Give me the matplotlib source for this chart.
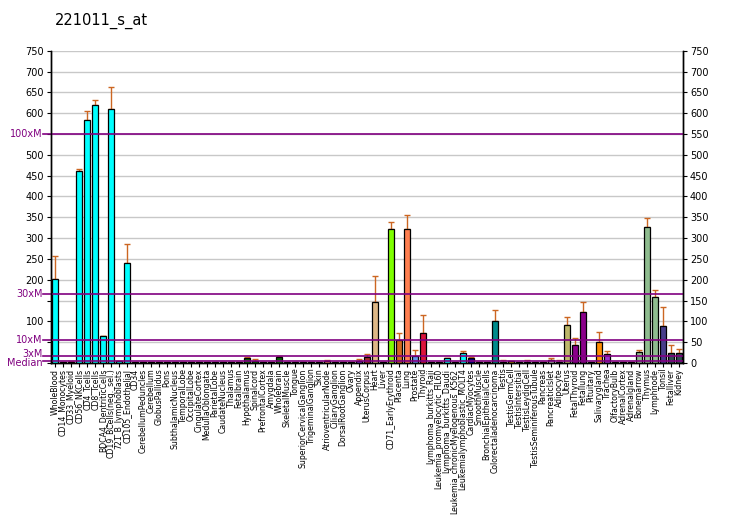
import numpy as np
import matplotlib
matplotlib.use("Agg")
import matplotlib.pyplot as plt
from matplotlib.transforms import blended_transform_factory

title = "221011_s_at"

categories = [
    "WholeBlood", "CD14_Monocytes", "CD33_Myeloid", "CD56_NKCells", "CD4_Tcells",
    "CD8_Tcells", "BDCA4_DentriticCells", "CD19_BCells(neg._sel.)", "721_B_lymphoblasts",
    "CD105_Endothelial", "CD34", "CerebellumPeduncles", "Cerebellum", "GlobusPallidus",
    "Pons", "SubthalamicNucleus", "TemporalLobe", "OccipitalLobe", "CingulateCortex",
    "MedullaOblongata", "ParietalLobe", "CaudateNucleus", "Thalamus", "Fetalbrain",
    "Hypothalamus", "Spinalcord", "PrefrontalCortex", "Amygdala", "Wholebrain",
    "SkeletalMuscle", "Tongue", "SuperiorCervicalGanglion", "TrigeminalGanglion", "Skin",
    "AtrioventricularNode", "CiliaryGanglion", "DorsalRootGanglion", "Ovary", "Appendix",
    "UterusCorpus", "Heart", "Liver", "CD71_EarlyErythroid", "Placenta", "Lung",
    "Prostate", "Thyroid", "Lymphoma_burkitts_Raji", "Leukemia_promyelocytic_HL60",
    "Lymphoma_burkitts_Daudi", "Leukemia_chronicMyelogenous_K562",
    "Leukemialymphoblastic_MOLT4", "CardiacMyocytes", "SmoothMuscle",
    "BronchialEpithelialCells", "Colorectaladenocarcinoma", "Testis", "TestisGermCell",
    "TestisIntersitial", "TestisLeydigCell", "TestisSeminiferousTubule", "Pancreas",
    "PancreaticIslet", "Adipocyte", "Uterus", "FetalThyroid", "Fetallung", "Pituitary",
    "Salivarygland", "Trachea", "OlfactoryBulb", "AdrenalCortex", "Adrenalgland",
    "Bonemarrow", "Thymus", "Lymphnode", "Tonsil", "Fetalliver", "Kidney",
]

values = [
    201, 2, 3, 460, 583, 619, 65, 609, 6, 239, 2,
    2, 2, 2, 2, 2, 2, 2, 2, 2, 2, 2, 2, 2, 13, 5, 2, 2, 15,
    2, 2, 2, 2, 2, 4, 2, 2, 2, 6,
    14, 147, 2, 323, 55, 321, 18, 71, 2, 2, 11, 2, 24, 11, 3,
    2, 100, 3, 4, 2, 3, 2, 2, 7, 3, 91, 43, 122, 2, 50, 21,
    2, 2, 2, 26, 326, 158, 88, 23, 23,
]

err_top = [
    258, 2, 5, 467, 604, 631, 66, 664, 6, 286, 2,
    2, 2, 2, 2, 2, 2, 2, 2, 2, 2, 2, 2, 2, 14, 9, 2, 2, 16,
    2, 2, 2, 2, 2, 7, 2, 2, 2, 10,
    21, 208, 2, 338, 71, 355, 31, 115, 2, 2, 11, 2, 29, 14, 3,
    2, 127, 7, 5, 2, 7, 2, 2, 11, 7, 110, 59, 146, 2, 75, 28,
    2, 2, 2, 31, 348, 175, 134, 43, 33,
]

colors = (
    ["#00FFFF"] * 11
    + ["#006400"] * 18
    + ["#F0FFFF", "#FFE4C4", "#FFEBCD", "#FFEBCD", "#F5F5DC", "#FA8072",
       "#FFEBCD", "#FFEBCD", "#0000FF", "#8A2BE2"]
    + ["#A52A2A", "#DEB887", "#5F9EA0", "#7FFF00", "#D2691E", "#FF7F50",
       "#6495ED", "#DC143C"]
    + ["#00FFFF"] * 5
    + ["#00008B"] * 2
    + ["#008B8B"] * 2
    + ["#B8860B"] * 5
    + ["#A9A9A9"] * 3
    + ["#BDB76B", "#8B008B", "#8B008B", "#556B2F", "#FF8C00", "#9932CC",
       "#8B0000", "#E9967A", "#E9967A", "#8FBC8F", "#8FBC8F", "#8FBC8F",
       "#483D8B", "#2F4F4F", "#2F4F4F"]
)

median = 5.49
mult_labels = ["Median", "3xM", "10xM", "30xM", "100xM"]
mult_factors = [1, 3, 10, 30, 100]
label_nudge = [-2.0, 1.5, 0, 0, 0]

y_ticks = list(range(0, 751, 50))
left_hidden = [0, 50, 150, 550]

plt.rcParams["font.family"] = ["DejaVu Sans"]

fig = plt.figure(figsize=(7.32, 5.30), dpi=100)
ax = fig.add_axes([51 / 732, 1 - 363 / 530, (683 - 51) / 732, (363 - 50.7) / 530])

x = np.arange(len(categories))
ax.set_xlim(-0.5, len(categories) - 0.5)
ax.set_ylim(0, 750)

for yt in y_ticks:
    ax.axhline(yt, color="#C8C8C8", lw=1.0, zorder=0)

v = np.array(values, dtype=float)
e = np.array(err_top, dtype=float)
upper = np.clip(e - v, 0, None)
ax.errorbar(x, v, yerr=[np.zeros_like(v), upper], fmt="none", ecolor="#CC6622",
            elinewidth=1.0, capsize=2.5, capthick=1.0, zorder=2)
ax.bar(x, v, width=0.75, color=colors, edgecolor="black", linewidth=0.9, zorder=3)

for lab, f, nd in zip(mult_labels, mult_factors, label_nudge):
    yv = median * f
    ax.plot([-0.012, 1.0], [yv, yv], transform=blended_transform_factory(ax.transAxes, ax.transData),
            color="#800080", lw=1.2, clip_on=False, zorder=4)
    ax.annotate(lab, xy=(0, yv), xycoords=("axes fraction", "data"), xytext=(-6, nd),
                textcoords="offset points", ha="right", va="center", color="#800080",
                fontsize=7)

ax.set_yticks(y_ticks)
ax.set_yticklabels(["" if t in left_hidden else str(t) for t in y_ticks], fontsize=7)
ax.tick_params(axis="y", direction="out", length=3, pad=2)

ax2 = ax.twinx()
ax2.set_ylim(0, 750)
ax2.set_yticks(y_ticks)
ax2.set_yticklabels([str(t) for t in y_ticks], fontsize=7)
ax2.tick_params(axis="y", direction="out", length=3, pad=2)

ax.set_xticks(x)
ax.set_xticklabels(categories, rotation=90, fontsize=5.6, va="top", ha="center")
ax.tick_params(axis="x", direction="out", length=3, pad=1)

for a in (ax, ax2):
    a.spines["top"].set_visible(False)
    for s in ("left", "right", "bottom"):
        a.spines[s].set_color("black")
        a.spines[s].set_linewidth(1.0)

fig.text(55 / 732, 1 - 21 / 530, title, fontsize=10.5, fontweight="normal", ha="left", va="center")

fig.savefig("out.png", dpi=100)
